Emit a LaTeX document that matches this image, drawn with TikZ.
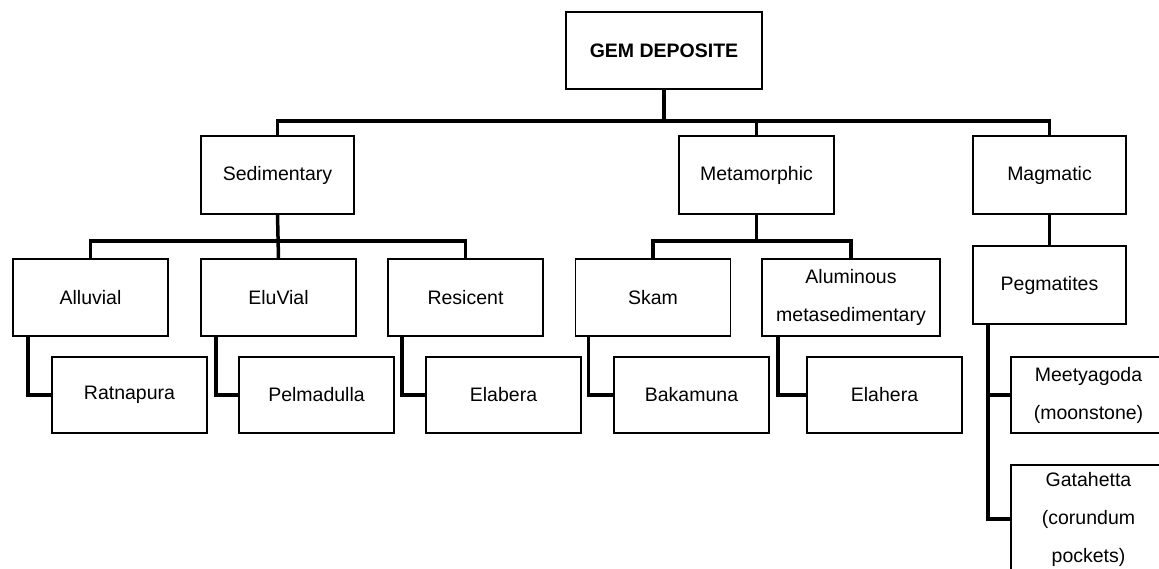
\documentclass[tikz,border=0pt]{standalone}
\usepackage{fontspec}
\setmainfont{Liberation Sans}
\usetikzlibrary{calc,positioning}

\begin{document}
\begin{tikzpicture}[x=1pt,y=-1pt,line cap=butt,line join=miter,
  box/.style={draw=black,line width=1.6pt,minimum width=155pt,minimum height=77pt,
    align=center,inner sep=2pt,font=\fontsize{19.5}{38}\selectfont},
  link/.style={draw=black,line width=3.5pt}]
  \clip (0,0) rectangle (1159,568);
  % racine et premier niveau
  \node[box,minimum width=196pt,font=\fontsize{19.5}{38}\selectfont\bfseries] (gem) at (664,50.5) {GEM DEPOSITE};
  \node[box,minimum width=153pt,minimum height=78pt] (sed) at (277.5,175) {Sedimentary};
  \node[box,minimum height=78pt] (met) at (756.5,175) {Metamorphic};
  \node[box,minimum width=153pt,minimum height=78pt] (mag) at (1049.5,175) {Magmatic};
  % deuxieme niveau
  \node[box] (alluvial) at (90.5,297.5) {Alluvial};
  \node[box] (eluvial) at (278.5,297.5) {EluVial};
  \node[box] (resicent) at (465.5,297.5) {Resicent};
  \node[box] (skam) at (653,297.5) {Skam};
  \node[box,minimum width=178pt] (alum) at (851,297.5) {Aluminous\\metasedimentary};
  \node[box,minimum width=153pt,minimum height=78pt] (peg) at (1049.5,285) {Pegmatites};
  % localites
  \node[box,minimum height=76pt] (ratnapura) at (129.5,395) {Ratnapura};
  \node[box,minimum height=76pt] (pelmadulla) at (316.5,395) {Pelmadulla};
  \node[box,minimum height=76pt] (elabera) at (503.5,395) {Elabera};
  \node[box,minimum height=76pt] (bakamuna) at (691.5,395) {Bakamuna};
  \node[box,minimum height=76pt] (elahera) at (884.5,395) {Elahera};
  \node[box,minimum height=76pt] (meetyagoda) at (1088.5,395) {Meetyagoda\\(moonstone)};
  \node[box,minimum height=108pt] (gatahetta) at (1088.5,519) {Gatahetta\\(corundum\\pockets)};
  % liaisons
  \draw[link] (gem.south) -- ++(0,33);
  \draw[link] (sed.north) -- ++(0,-14) -| (mag.north);
  \draw[link] (met.north) -- ++(0,-14);
  \draw[link] (alluvial.north) -- ++(0,-17) -| (resicent.north);
  \draw[link] (sed.south) -- (eluvial.north);
  \draw[link] (skam.north) -- ++(0,-17) -| (alum.north);
  \draw[link] (met.south) -- ++(0,28);
  \draw[link] (mag.south) -- (peg.north);
  \draw[link] ([xshift=16pt]alluvial.south west) |- (ratnapura.west);
  \draw[link] ([xshift=16pt]eluvial.south west) |- (pelmadulla.west);
  \draw[link] ([xshift=15pt]resicent.south west) |- (elabera.west);
  \draw[link] ([xshift=14pt]skam.south west) |- (bakamuna.west);
  \draw[link] ([xshift=17pt]alum.south west) |- (elahera.west);
  \draw[link] ([xshift=16pt]peg.south west) |- (meetyagoda.west);
  \draw[link] ([xshift=16pt]peg.south west) |- (gatahetta.west);
\end{tikzpicture}
\end{document}
